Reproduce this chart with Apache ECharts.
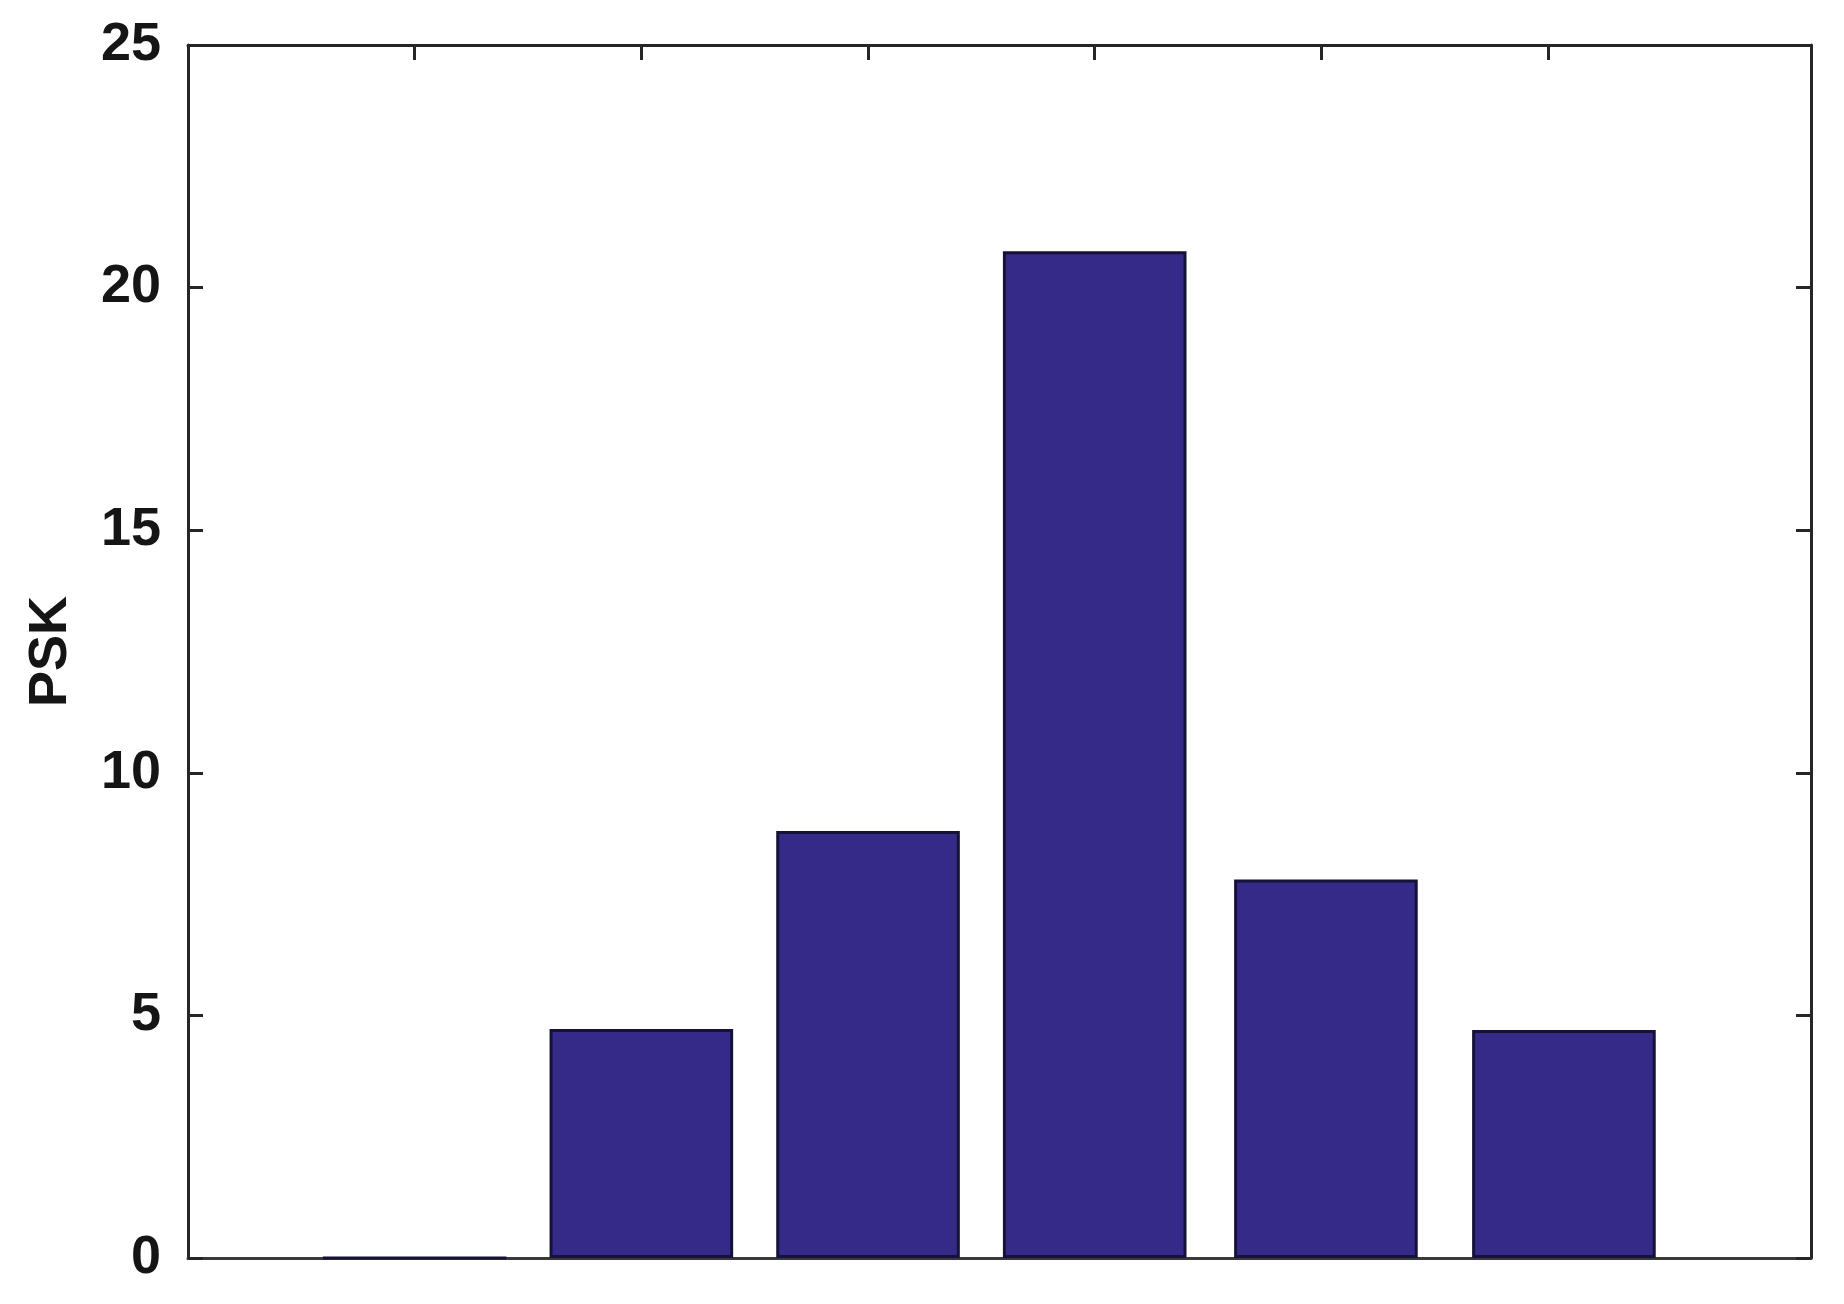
<!DOCTYPE html>
<html>
<head>
<meta charset="utf-8">
<script src="https://cdn.jsdelivr.net/npm/echarts@6/dist/echarts.min.js"></script>
<style>
  html, body { margin: 0; padding: 0; background: #ffffff; }
  #chart { width: 1844px; height: 1304px; }
</style>
</head>
<body>
<div id="chart"></div>
<script>
// Data
const binPositions = [1, 2, 3, 4, 5.02, 6.07];
const pskValues = [0, 4.72, 8.8, 20.75, 7.8, 4.7];
const yTickValues = [0, 5, 10, 15, 20, 25];
const xTickValues = [1, 2, 3, 4, 5, 6];
const yAxisName = 'PSK';

const barData = binPositions.map((x, i) => [x, pskValues[i]]);

const fontFamily = '"Liberation Sans", Arial, Helvetica, sans-serif';
const frameColor = '#262626';
const frameWidth = 3;

const chart = echarts.init(document.getElementById('chart'), null, { renderer: 'canvas' });

chart.setOption({
  backgroundColor: '#ffffff',
  animation: false,
  grid: { left: 188, right: 33, top: 45, bottom: 46, containLabel: false },
  xAxis: [
    {
      type: 'value', position: 'bottom', min: 0, max: 7.16,
      axisLine: { show: true, onZero: false, lineStyle: { color: '#3a3a3a', width: frameWidth } },
      axisTick: { show: false },
      axisLabel: { show: false },
      splitLine: { show: false }
    },
    {
      type: 'value', position: 'top', min: 0, max: 7.16,
      axisLine: { show: true, onZero: false, lineStyle: { color: frameColor, width: frameWidth } },
      axisTick: { show: true, inside: true, length: 15, customValues: xTickValues,
                  lineStyle: { color: frameColor, width: 3 } },
      axisLabel: { show: false },
      splitLine: { show: false }
    }
  ],
  yAxis: [
    {
      type: 'value', position: 'left', min: 0, max: 25, interval: 5,
      name: yAxisName, nameLocation: 'middle', nameGap: 110, nameRotate: 90,
      nameTextStyle: { fontFamily, fontSize: 54, fontWeight: 'bold', color: '#151515' },
      axisLine: { show: true, onZero: false, lineStyle: { color: frameColor, width: frameWidth } },
      axisTick: { show: true, inside: true, length: 15, lineStyle: { color: frameColor, width: 3 } },
      axisLabel: {
        show: true, margin: 27, fontFamily, fontSize: 54, fontWeight: 'bold', color: '#151515',
        customValues: yTickValues
      },
      splitLine: { show: false }
    },
    {
      type: 'value', position: 'right', min: 0, max: 25, interval: 5,
      axisLine: { show: true, onZero: false, lineStyle: { color: frameColor, width: frameWidth } },
      axisTick: { show: true, inside: true, length: 15, lineStyle: { color: frameColor, width: 3 } },
      axisLabel: { show: false },
      splitLine: { show: false }
    }
  ],
  series: [
    {
      type: 'bar',
      xAxisIndex: 0,
      yAxisIndex: 0,
      data: barData,
      barWidth: '81%',
      clip: true,
      itemStyle: {
        color: '#352a87',
        borderColor: '#15123a',
        borderWidth: 3
      },
      emphasis: { disabled: true }
    }
  ]
});
</script>
</body>
</html>
